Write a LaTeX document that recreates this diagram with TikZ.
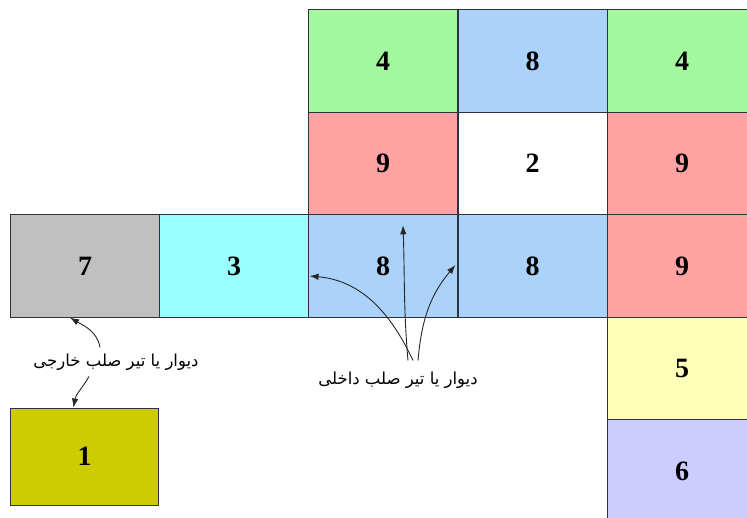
\documentclass[tikz,border=0pt]{standalone}
\usepackage{fontspec}
\setmainfont{Liberation Serif}
\newfontfamily\farsifont[Script=Arabic]{DejaVu Sans}
\TeXXeTstate=1
\usetikzlibrary{arrows.meta,positioning}
\definecolor{cellGreen}{RGB}{163,247,158}
\definecolor{cellBlue}{RGB}{171,210,250}
\definecolor{cellRed}{RGB}{255,163,163}
\definecolor{cellGray}{RGB}{192,192,192}
\definecolor{cellCyan}{RGB}{153,255,255}
\definecolor{cellYellow}{RGB}{255,255,185}
\definecolor{cellLilac}{RGB}{204,204,255}
\definecolor{cellOlive}{RGB}{204,204,0}
\definecolor{cellEdge}{RGB}{45,50,60}

\begin{document}
\begin{tikzpicture}[x=1pt,y=1pt,
    cell/.style={draw=cellEdge, line width=0.9pt, minimum width=149pt,
      minimum height=102.5pt, inner sep=0pt,
      font=\fontsize{28}{30}\selectfont\bfseries},
    wallnote/.style={font=\farsifont\fontsize{16.5}{18}\selectfont, inner sep=1pt},
    wallarrow/.style={-{Latex[length=9pt,width=6.5pt]}, line width=0.9pt, draw=black!85}]

    % page frame
    \clip (0,0) rectangle (747,518);

    % upper block
    \node[cell, fill=cellGreen] (top4a) at (383,457) {4};
    \node[cell, fill=cellBlue]  (top8)  at (532.5,457) {8};
    \node[cell, fill=cellGreen] (top4b) at (682,457) {4};
    \node[cell, fill=cellRed]   (mid9a) at (383,354.5) {9};
    \node[cell, fill=white]     (mid2)  at (532.5,354.5) {2};
    \node[cell, fill=cellRed]   (mid9b) at (682,354.5) {9};

    % long row
    \node[cell, fill=cellGray] (wall7)  at (85,252) {7};
    \node[cell, fill=cellCyan] (wall3)  at (234,252) {3};
    \node[cell, fill=cellBlue] (in8)    at (383,252) {8};
    \node[cell, fill=cellBlue] (wall8)  at (532.5,252) {8};
    \node[cell, fill=cellRed]  (right9) at (682,252) {9};

    % right column
    \node[cell, fill=cellYellow] (right5) at (682,149.5) {5};
    \node[cell, fill=cellLilac]  (right6) at (682,47) {6};

    % separate box
    \node[cell, fill=cellOlive, minimum width=148pt, minimum height=97pt] (box1) at (84.5,61.5) {1};

    % notes
    \node[wallnote] (lblOut) at (116,156) {\beginR دیوار یا تیر صلب خارجی\endR};
    \node[wallnote] (lblIn)  at (398,138) {\beginR دیوار یا تیر صلب داخلی\endR};

    % arrows to outer walls
    \draw[wallarrow] ([xshift=-16pt,yshift=5pt]lblOut.north) to[out=100,in=-30] ([xshift=-15pt]wall7.south);
    \draw[wallarrow] ([xshift=-27pt,yshift=-5pt]lblOut.south) to[out=240,in=80] ([xshift=-11pt]box1.north);

    % arrows to inner walls
    \draw[wallarrow] ([xshift=15pt,yshift=10pt]lblIn.north) to[out=115,in=-5] ([xshift=1.5pt,yshift=-10pt]in8.west);
    \draw[wallarrow] ([xshift=10pt,yshift=10pt]lblIn.north) to[out=95,in=-88] ([xshift=20pt,yshift=-11pt]in8.north);
    \draw[wallarrow] ([xshift=20pt,yshift=10pt]lblIn.north) to[out=85,in=-130] ([xshift=-2.5pt,yshift=1pt]in8.east);

\end{tikzpicture}
\end{document}
